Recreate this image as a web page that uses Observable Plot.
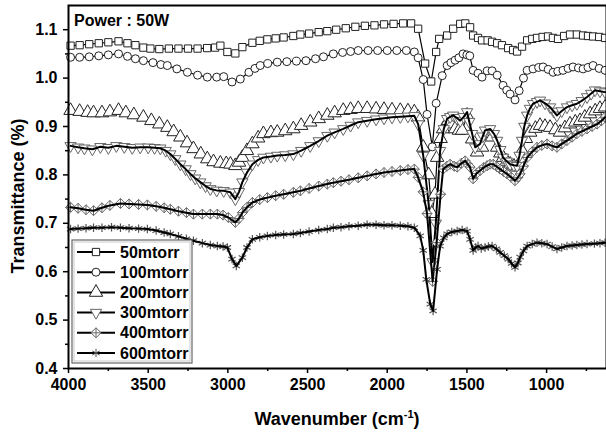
<!DOCTYPE html>
<html><head><meta charset="utf-8">
<script src="https://cdn.jsdelivr.net/npm/d3@7"></script>
<script src="https://cdn.jsdelivr.net/npm/@observablehq/plot@0.6"></script>
<style>body{margin:0;background:#fff}#chart{position:relative;width:606px;height:433px}</style>
</head><body><div id="chart"></div>
<script>
// ---- data (wavenumber cm^-1, transmittance) ----
const seriesNames = ["50mtorr","100mtorr","200mtorr","300mtorr","400mtorr","600mtorr"];
const s50 = [[3987,1.067],[3930,1.068],[3870,1.07],[3810,1.072],[3750,1.074],[3686,1.076],[3630,1.072],[3580,1.068],[3530,1.063],[3486,1.061],[3430,1.06],[3370,1.061],[3310,1.061],[3250,1.061],[3190,1.061],[3130,1.062],[3080,1.063],[3047,1.067],[3003,1.054],[2953,1.051],[2909,1.064],[2846,1.073],[2800,1.077],[2752,1.08],[2700,1.082],[2650,1.084],[2589,1.087],[2545,1.09],[2490,1.092],[2430,1.095],[2376,1.097],[2320,1.1],[2260,1.103],[2200,1.106],[2140,1.108],[2080,1.109],[2020,1.111],[1960,1.112],[1900,1.113],[1850,1.113],[1806,1.102],[1762,1.03],[1724,0.993],[1693,1.054],[1674,1.081],[1624,1.088],[1586,1.102],[1542,1.112],[1510,1.113],[1480,1.105],[1461,1.088],[1430,1.083],[1405,1.078],[1370,1.078],[1342,1.075],[1310,1.072],[1280,1.068],[1241,1.062],[1210,1.058],[1185,1.055],[1154,1.065],[1122,1.078],[1090,1.081],[1060,1.083],[1025,1.085],[991,1.086],[960,1.083],[928,1.081],[890,1.087],[853,1.09],[810,1.09],[771,1.088],[740,1.087],[708,1.086],[670,1.085],[633,1.083]];
const s100 = [[3987,1.043],[3930,1.043],[3870,1.044],[3810,1.046],[3750,1.048],[3686,1.05],[3630,1.045],[3580,1.04],[3530,1.036],[3470,1.032],[3420,1.028],[3380,1.026],[3320,1.019],[3254,1.012],[3190,1.006],[3129,1.002],[3070,1.002],[3026,1.003],[2974,0.992],[2922,0.998],[2868,1.012],[2830,1.02],[2797,1.026],[2750,1.03],[2690,1.033],[2630,1.034],[2570,1.035],[2510,1.036],[2450,1.04],[2400,1.044],[2338,1.05],[2280,1.053],[2230,1.055],[2182,1.057],[2120,1.057],[2060,1.057],[2000,1.057],[1940,1.057],[1880,1.057],[1830,1.054],[1806,1.042],[1774,0.997],[1750,0.925],[1717,0.858],[1693,0.948],[1655,1.005],[1624,1.026],[1600,1.032],[1574,1.037],[1550,1.042],[1524,1.05],[1500,1.048],[1482,1.046],[1461,1.016],[1430,1.01],[1405,1.002],[1373,1.015],[1342,1.015],[1310,1.006],[1273,0.985],[1250,0.975],[1229,0.967],[1198,0.955],[1172,0.974],[1145,1.0],[1122,1.016],[1085,1.019],[1050,1.022],[1022,1.023],[990,1.018],[959,1.012],[930,1.014],[897,1.016],[865,1.02],[834,1.023],[800,1.021],[771,1.019],[740,1.022],[708,1.026],[670,1.02],[633,1.016]];
const s200 = [[3987,0.933],[3930,0.931],[3880,0.929],[3843,0.928],[3790,0.928],[3740,0.93],[3686,0.933],[3640,0.928],[3590,0.924],[3530,0.919],[3480,0.912],[3430,0.905],[3380,0.898],[3340,0.889],[3298,0.878],[3256,0.866],[3216,0.854],[3170,0.843],[3129,0.833],[3090,0.827],[3047,0.824],[3010,0.823],[2984,0.822],[2953,0.819],[2930,0.826],[2909,0.836],[2880,0.85],[2846,0.864],[2810,0.876],[2777,0.885],[2730,0.887],[2690,0.888],[2640,0.891],[2589,0.895],[2540,0.902],[2483,0.909],[2430,0.916],[2376,0.923],[2330,0.928],[2276,0.933],[2230,0.935],[2182,0.937],[2126,0.937],[2070,0.936],[2020,0.935],[1970,0.934],[1918,0.933],[1870,0.932],[1830,0.93],[1806,0.919],[1774,0.857],[1740,0.8],[1720,0.72],[1700,0.76],[1687,0.836],[1665,0.875],[1649,0.895],[1617,0.912],[1595,0.905],[1574,0.895],[1550,0.892],[1530,0.892],[1499,0.923],[1467,0.874],[1436,0.847],[1405,0.857],[1373,0.885],[1342,0.878],[1310,0.857],[1290,0.845],[1273,0.836],[1250,0.828],[1229,0.822],[1205,0.818],[1185,0.816],[1154,0.85],[1130,0.875],[1103,0.888],[1070,0.896],[1041,0.902],[1010,0.9],[978,0.898],[945,0.893],[916,0.888],[885,0.897],[853,0.905],[820,0.909],[790,0.912],[760,0.919],[727,0.926],[695,0.932],[665,0.937],[633,0.94]];
const s300 = [[3987,0.86],[3940,0.857],[3900,0.855],[3850,0.853],[3800,0.858],[3750,0.856],[3700,0.86],[3650,0.858],[3600,0.856],[3550,0.857],[3500,0.857],[3460,0.856],[3424,0.855],[3390,0.85],[3361,0.843],[3330,0.833],[3298,0.822],[3265,0.812],[3235,0.802],[3205,0.793],[3173,0.785],[3140,0.777],[3110,0.771],[3070,0.768],[3026,0.767],[2984,0.764],[2953,0.75],[2930,0.765],[2909,0.785],[2880,0.805],[2846,0.822],[2810,0.831],[2777,0.836],[2730,0.838],[2690,0.84],[2640,0.841],[2589,0.843],[2540,0.85],[2483,0.86],[2430,0.87],[2376,0.881],[2330,0.888],[2276,0.895],[2230,0.902],[2182,0.909],[2126,0.912],[2070,0.915],[2020,0.917],[1970,0.919],[1918,0.92],[1870,0.921],[1830,0.922],[1806,0.905],[1774,0.84],[1740,0.74],[1715,0.62],[1695,0.7],[1668,0.85],[1645,0.895],[1624,0.916],[1605,0.92],[1586,0.923],[1565,0.918],[1542,0.912],[1520,0.92],[1499,0.93],[1485,0.91],[1467,0.885],[1448,0.857],[1417,0.864],[1400,0.88],[1386,0.892],[1354,0.895],[1330,0.885],[1310,0.871],[1290,0.852],[1273,0.836],[1250,0.828],[1229,0.822],[1205,0.82],[1185,0.819],[1170,0.84],[1154,0.871],[1140,0.9],[1122,0.923],[1105,0.937],[1085,0.947],[1060,0.951],[1041,0.954],[1010,0.948],[978,0.94],[955,0.931],[935,0.923],[905,0.932],[872,0.94],[840,0.944],[810,0.947],[780,0.953],[746,0.961],[720,0.968],[696,0.975],[665,0.973],[633,0.971]];
const s400 = [[3987,0.733],[3940,0.731],[3890,0.728],[3843,0.726],[3790,0.732],[3740,0.737],[3674,0.741],[3620,0.74],[3560,0.739],[3505,0.738],[3450,0.735],[3400,0.732],[3361,0.729],[3310,0.725],[3260,0.722],[3216,0.719],[3160,0.719],[3110,0.719],[3066,0.719],[3030,0.717],[2997,0.712],[2953,0.702],[2930,0.71],[2909,0.722],[2880,0.733],[2846,0.743],[2800,0.749],[2752,0.753],[2700,0.757],[2650,0.76],[2589,0.764],[2545,0.767],[2490,0.772],[2430,0.777],[2376,0.781],[2338,0.784],[2290,0.787],[2240,0.79],[2182,0.794],[2126,0.798],[2070,0.802],[2020,0.805],[1970,0.807],[1918,0.809],[1870,0.811],[1830,0.812],[1806,0.795],[1775,0.765],[1750,0.72],[1715,0.58],[1690,0.66],[1665,0.76],[1649,0.812],[1625,0.818],[1605,0.822],[1580,0.818],[1561,0.816],[1535,0.824],[1511,0.829],[1495,0.822],[1480,0.816],[1461,0.792],[1440,0.803],[1417,0.809],[1395,0.815],[1373,0.819],[1355,0.822],[1335,0.822],[1312,0.817],[1292,0.812],[1270,0.807],[1248,0.802],[1222,0.795],[1198,0.788],[1180,0.795],[1166,0.802],[1145,0.818],[1122,0.836],[1090,0.848],[1060,0.857],[1030,0.861],[997,0.864],[965,0.86],[935,0.857],[905,0.864],[872,0.871],[840,0.878],[810,0.885],[778,0.89],[746,0.895],[715,0.9],[683,0.905],[655,0.912],[633,0.919]];
const s600 = [[3987,0.688],[3940,0.689],[3890,0.69],[3843,0.691],[3790,0.691],[3730,0.692],[3674,0.691],[3620,0.69],[3560,0.689],[3505,0.688],[3450,0.685],[3400,0.681],[3361,0.678],[3310,0.673],[3260,0.668],[3216,0.664],[3160,0.659],[3110,0.655],[3066,0.653],[3030,0.652],[3003,0.65],[2974,0.626],[2947,0.612],[2909,0.629],[2880,0.65],[2846,0.667],[2800,0.671],[2752,0.674],[2700,0.676],[2650,0.677],[2589,0.678],[2545,0.68],[2490,0.683],[2430,0.686],[2376,0.688],[2338,0.691],[2290,0.692],[2240,0.694],[2182,0.695],[2126,0.697],[2070,0.697],[2020,0.696],[1970,0.696],[1918,0.695],[1870,0.694],[1830,0.691],[1793,0.674],[1774,0.644],[1755,0.584],[1730,0.533],[1712,0.519],[1687,0.605],[1668,0.653],[1645,0.67],[1624,0.678],[1595,0.682],[1561,0.684],[1530,0.686],[1499,0.684],[1480,0.667],[1461,0.644],[1445,0.65],[1430,0.653],[1410,0.648],[1386,0.65],[1365,0.652],[1342,0.653],[1315,0.647],[1292,0.64],[1265,0.633],[1241,0.626],[1220,0.617],[1198,0.609],[1180,0.618],[1166,0.63],[1145,0.643],[1122,0.653],[1090,0.657],[1060,0.66],[1030,0.659],[997,0.657],[965,0.652],[935,0.647],[905,0.65],[872,0.653],[840,0.654],[810,0.655],[778,0.656],[746,0.657],[700,0.658],[665,0.659],[633,0.66]];
const seriesData = [s50, s100, s200, s300, s400, s600];
const xTicks = [4000,3500,3000,2500,2000,1500,1000];
const xMinor = [3750,3250,2750,2250,1750,1250,750];
const yTicks = [0.4,0.5,0.6,0.7,0.8,0.9,1.0,1.1];
const yMinor = [0.45,0.55,0.65,0.75,0.85,0.95,1.05];
const annotation = "Power : 50W";
const xTitle = "Wavenumber (cm";
const xTitleSup = "-1";
const yTitle = "Transmittance (%)";

// ---- symbols ----
const triDown = {draw(ctx, size){ const y = -Math.sqrt(size/(Math.sqrt(3)*3)); const s3=Math.sqrt(3);
  ctx.moveTo(0,-y*2); ctx.lineTo(-s3*y, y); ctx.lineTo(s3*y, y); ctx.closePath(); }};
const diamondCross = {draw(ctx, size){ const r = Math.sqrt(size/2);
  ctx.moveTo(0,-r); ctx.lineTo(r,0); ctx.lineTo(0,r); ctx.lineTo(-r,0); ctx.closePath();
  ctx.moveTo(0,-r); ctx.lineTo(0,r); ctx.moveTo(-r,0); ctx.lineTo(r,0); }};
const styles = [
  {symbol: d3.symbolSquare, r: 4.1, stroke: "#222", fill: "white", lw: 1.2, lineOnTop: false, sw: 1},
  {symbol: d3.symbolCircle, r: 4.0, stroke: "#222", fill: "white", lw: 1.2, lineOnTop: false, sw: 1},
  {symbol: d3.symbolTriangle, r: 5.0, stroke: "#222", fill: "white", lw: 1.2, lineOnTop: false, sw: 1},
  {symbol: triDown, r: 4.2, stroke: "#666", fill: "white", lw: 2, lineOnTop: true, sw: 1},
  {symbol: diamondCross, r: 4.0, stroke: "#666", fill: "white", lw: 2, lineOnTop: true, sw: 1},
  {symbol: d3.symbolAsterisk, r: 4.0, stroke: "#555", fill: "none", lw: 2, lineOnTop: true, sw: 1.2}
];

const rows = seriesData.map(s => s.map(([w,t]) => ({w, t})));
const marks = [];
rows.forEach((d, i) => {
  const st = styles[i];
  const line = Plot.line(d, {x: "w", y: "t", stroke: "black", strokeWidth: st.lw});
  const dots = Plot.dot(d, {x: "w", y: "t", symbol: st.symbol, r: st.r, stroke: st.stroke, fill: st.fill, strokeWidth: st.sw});
  if (st.lineOnTop) marks.push(dots, line); else marks.push(line, dots);
});

const W = 606, H = 433;
const plot = Plot.plot({
  width: W, height: H,
  marginLeft: 68, marginRight: 0, marginTop: 5, marginBottom: 65,
  style: {fontFamily: "'Liberation Sans', Arial, sans-serif", fontWeight: "bold", fontSize: "16px", color: "black", background: "white", overflow: "visible"},
  x: {domain: [4000, 624], label: null},
  y: {domain: [0.4, 1.15], label: null},
  marks: [
    Plot.axisX({ticks: xTicks, tickSize: 5, tickPadding: 5, tickFormat: d => String(d), label: null, fontSize: 16, fontWeight: "bold", strokeWidth: 1.5}),
    Plot.axisX({ticks: xMinor, tickSize: 3, tickFormat: () => "", label: null, strokeWidth: 1.5}),
    Plot.axisY({ticks: yTicks, tickSize: 5, tickPadding: 6, tickFormat: d3.format(".1f"), label: null, fontSize: 16, fontWeight: "bold", strokeWidth: 1.5}),
    Plot.axisY({ticks: yMinor, tickSize: 3, tickFormat: () => "", label: null, strokeWidth: 1.5}),
    ...marks,
    Plot.frame({stroke: "black", strokeWidth: 2})
  ]
});
document.getElementById("chart").appendChild(plot);

// ---- titles, annotation, legend ----
const svg = d3.select(plot);
const ff = "'Liberation Sans', Arial, sans-serif";
svg.append("text").attr("transform", "translate(18,196) rotate(-90)")
  .attr("text-anchor", "middle").attr("dominant-baseline", "central")
  .attr("font-family", ff).attr("font-weight", "bold").attr("font-size", 18).text(yTitle);
const xt = svg.append("text").attr("x", 337).attr("y", 425).attr("text-anchor", "middle")
  .attr("font-family", ff).attr("font-weight", "bold").attr("font-size", 18);
xt.append("tspan").text(xTitle);
xt.append("tspan").attr("dy", -7).attr("font-size", 11).text(xTitleSup);
xt.append("tspan").attr("dy", 7).text(")");
svg.append("text").attr("x", 74).attr("y", 26).attr("text-anchor", "start").attr("font-family", ff).attr("font-weight", "bold")
  .attr("font-size", 16).text(annotation);

const lg = svg.append("g").attr("text-anchor", "start");
lg.append("rect").attr("x", 72).attr("y", 240).attr("width", 120).attr("height", 123)
  .attr("fill", "white").attr("stroke", "#666").attr("stroke-width", 1.2);
lg.append("rect").attr("x", 74).attr("y", 242).attr("width", 116).attr("height", 119)
  .attr("fill", "none").attr("stroke", "#bbb").attr("stroke-width", 0.8);
seriesNames.forEach((name, i) => {
  const st = styles[i];
  const y = 252 + i * 20.2;
  lg.append("line").attr("x1", 77).attr("x2", 115).attr("y1", y).attr("y2", y)
    .attr("stroke", "black").attr("stroke-width", 2);
  lg.append("path").attr("transform", `translate(96,${y})`)
    .attr("d", d3.symbol(st.symbol, Math.PI * st.r * st.r)())
    .attr("fill", st.fill === "none" ? "none" : "white").attr("stroke", st.stroke).attr("stroke-width", 1);
  lg.append("text").attr("x", 120).attr("y", y).attr("text-anchor", "start").attr("dominant-baseline", "central")
    .attr("font-family", ff).attr("font-weight", "bold").attr("font-size", 16).text(name);
});
</script></body></html>
